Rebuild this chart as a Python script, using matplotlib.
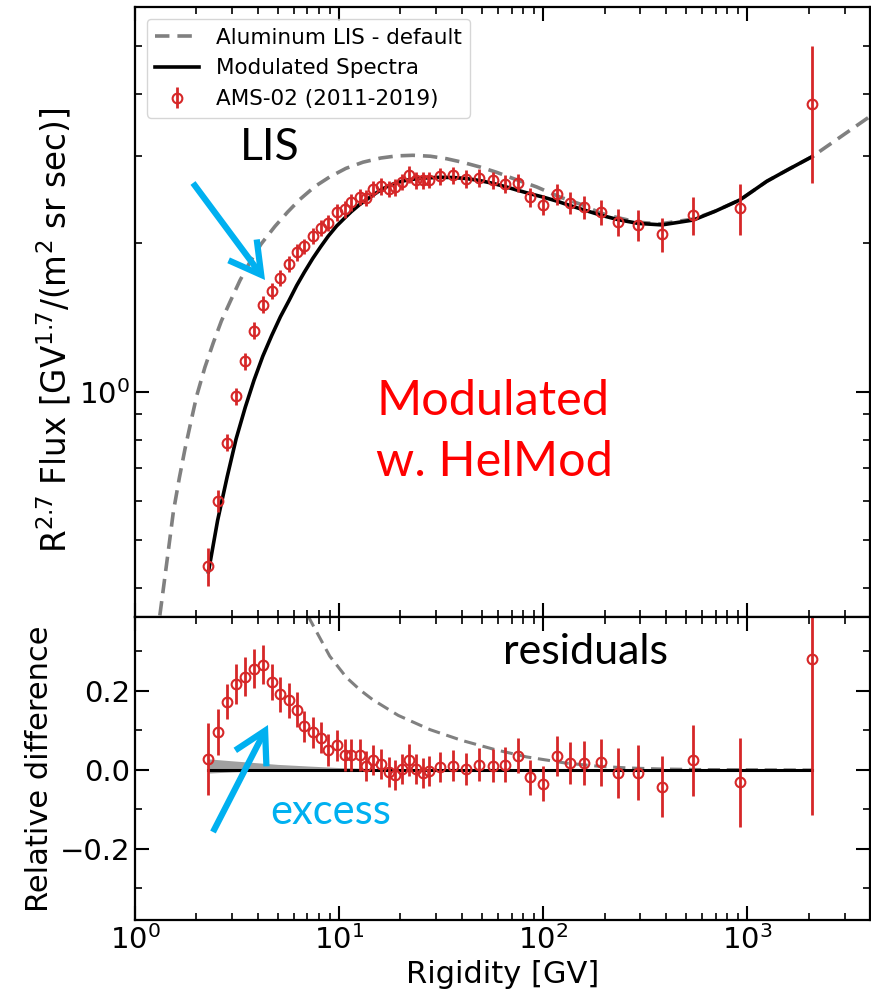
import numpy as np
import matplotlib
matplotlib.use("Agg")
import matplotlib.pyplot as plt
from matplotlib.patches import FancyArrowPatch
from matplotlib.ticker import LogLocator, NullFormatter, MultipleLocator, FixedLocator

# ---------------- data ----------------
rigidity = [2.29, 2.54, 2.83, 3.13, 3.47, 3.83, 4.23, 4.68, 5.16, 5.69, 6.20, 6.76,
            7.43, 8.13, 8.86, 9.74, 10.7, 11.5, 12.6, 13.6, 14.7, 16.0, 17.5, 18.8,
            20.3, 22.1, 23.9, 25.7, 27.7, 31.3, 36.1, 41.9, 48.7, 56.6, 65.1, 75.2,
            86.3, 100.3, 116.7, 135.6, 159.4, 192.4, 233.8, 293.0, 381.7, 545.0, 924.0, 2083.0]
flux = [0.444, 0.602, 0.789, 0.978, 1.153, 1.329, 1.501, 1.598, 1.700, 1.812, 1.913, 1.968,
        2.065, 2.145, 2.196, 2.306, 2.338, 2.417, 2.477, 2.469, 2.570, 2.603, 2.575, 2.594,
        2.655, 2.748, 2.677, 2.677, 2.685, 2.727, 2.740, 2.696, 2.708, 2.677, 2.636, 2.646,
        2.477, 2.391, 2.508, 2.414, 2.365, 2.311, 2.206, 2.173, 2.081, 2.276, 2.354, 3.818]
resid = [0.027, 0.096, 0.173, 0.218, 0.236, 0.256, 0.266, 0.223, 0.191, 0.176, 0.152, 0.110,
         0.095, 0.082, 0.051, 0.062, 0.038, 0.038, 0.038, 0.011, 0.025, 0.014, -0.006, -0.013,
         0.002, 0.025, 0.002, -0.008, -0.003, 0.008, 0.011, 0.003, 0.013, 0.011, 0.013, 0.036,
         -0.019, -0.035, 0.035, 0.017, 0.017, 0.019, -0.008, -0.007, -0.042, 0.024, -0.031, 0.281]
resid_err = [0.091, 0.058, 0.045, 0.050, 0.050, 0.049, 0.049, 0.046, 0.044, 0.044, 0.044, 0.040,
             0.040, 0.040, 0.040, 0.040, 0.040, 0.040, 0.040, 0.038, 0.038, 0.038, 0.038, 0.038,
             0.038, 0.040, 0.038, 0.038, 0.038, 0.038, 0.040, 0.040, 0.042, 0.042, 0.044, 0.044,
             0.044, 0.044, 0.050, 0.053, 0.055, 0.059, 0.063, 0.070, 0.076, 0.090, 0.113, 0.395]

model_R = [2.29, 2.54, 2.83, 3.13, 3.47, 3.83, 4.23, 4.68, 5.16, 5.69, 6.20, 6.76, 7.43,
           8.13, 8.86, 9.74, 10.7, 11.5, 12.6, 13.6, 14.7, 16.0, 17.5, 18.8, 20.3, 22.1,
           25.7, 31.3, 36.1, 41.9, 48.7, 56.6, 65.1, 75.2, 86.3, 100.3, 116.7, 135.6,
           159.4, 192.4, 233.8, 293.0, 381.7, 545.0, 700.0, 924.0, 1248.0, 1600.0, 2083.0]
model_flux = [0.432, 0.549, 0.673, 0.803, 0.930, 1.055, 1.180, 1.300, 1.418, 1.530, 1.640,
              1.745, 1.860, 1.965, 2.065, 2.165, 2.250, 2.315, 2.390, 2.445, 2.500, 2.560,
              2.610, 2.640, 2.665, 2.685, 2.705, 2.715, 2.712, 2.700, 2.675, 2.640, 2.600,
              2.555, 2.515, 2.475, 2.430, 2.380, 2.330, 2.275, 2.228, 2.190, 2.175, 2.225,
              2.320, 2.445, 2.665, 2.820, 2.990]

lis_R = [1.28, 1.352, 1.45, 1.541, 1.65, 1.758, 1.88, 2.006, 2.2, 2.419, 2.65, 2.923, 3.27,
         3.66, 4.15, 4.85, 5.6, 6.43, 7.6, 9.0, 10.8, 13.1, 16.0, 19.2, 23.0, 28.0, 33.7,
         40.5, 49.1, 59.0, 71.6, 92.9, 120.6, 157.9, 190.0, 229.6, 290.0, 373.0, 545.0,
         700.0, 924.0, 1248.0, 1600.0, 2083.0, 4042.0]
lis_flux = [0.318, 0.377, 0.470, 0.571, 0.670, 0.766, 0.870, 0.981, 1.120, 1.256, 1.390,
            1.520, 1.680, 1.830, 1.990, 2.160, 2.310, 2.450, 2.600, 2.720, 2.830, 2.913,
            2.970, 3.000, 3.008, 2.995, 2.960, 2.910, 2.848, 2.780, 2.698, 2.596, 2.477,
            2.383, 2.300, 2.252, 2.203, 2.185, 2.235, 2.320, 2.445, 2.665, 2.820, 2.990, 3.617]

lis_res_R = [6.5, 7.21, 9.0, 10.87, 12.7, 14.6, 19.5, 27.9, 39.9, 58.0, 83.0, 130.0,
             190.0, 260.0, 374.0, 600.0, 2083.0]
lis_res = [0.435, 0.380, 0.288, 0.234, 0.202, 0.178, 0.138, 0.102, 0.0748, 0.0515, 0.0329,
           0.0171, 0.0090, 0.0050, 0.0025, 0.0010, 0.0]

band_R = [2.29, 3.0, 4.0, 5.0, 7.0, 10.0, 15.0, 20.0, 30.0, 2083.0]
band_hi = [0.028, 0.023, 0.018, 0.014, 0.010, 0.006, 0.003, 0.001, 0.0, 0.0]
band_lo = [-0.008, -0.005, -0.003, -0.001, 0.0, 0.0, 0.0, 0.0, 0.0, 0.0]

# ---------------- figure ----------------
RED = "#d62728"
GRAY = "#808080"
CYAN = "#00b0f0"
FS = 22

fig = plt.figure(figsize=(8.71, 9.97), dpi=100)
ax1 = fig.add_axes([0.1550, 0.3811, 0.8439, 0.6118])
ax2 = fig.add_axes([0.1550, 0.0772, 0.8439, 0.3039], sharex=ax1)

r = np.array(rigidity)
f = np.array(flux)
res = np.array(resid)
rerr = np.array(resid_err)
ferr = rerr * f / (1.0 + res)

ax1.plot(lis_R, lis_flux, ls=(0, (4, 2.2)), color=GRAY, lw=2.6, label="Aluminum LIS - default")
ax1.plot(model_R, model_flux, ls="-", color="black", lw=2.6, label="Modulated Spectra")
ax1.errorbar(r, f, yerr=ferr, fmt="o", color=RED, mfc="none", mec=RED, ms=7, mew=1.5,
             elinewidth=2.0, capsize=0, label="AMS-02 (2011-2019)")

ax1.set_xscale("log")
ax1.set_yscale("log")
ax1.set_xlim(1.0, 4000.0)
ax1.set_ylim(0.35, 6.0)
ax1.set_ylabel(r"R$^{2.7}$ Flux [GV$^{1.7}$/(m$^2$ sr sec)]", fontsize=23.5)
ax1.yaxis.set_minor_formatter(NullFormatter())
ax1.yaxis.set_major_locator(FixedLocator([1.0]))
ax1.yaxis.set_minor_locator(FixedLocator([0.4, 0.5, 0.6, 0.7, 0.8, 0.9, 2, 3, 4, 5]))
ax1.tick_params(labelbottom=False)

leg = ax1.legend(loc="upper left", fontsize=15.5, handlelength=2.0, borderaxespad=0.55)

# bottom panel
ax2.fill_between(band_R, band_lo, band_hi, color="#a0a0a0", lw=0)
ax2.plot(lis_res_R, lis_res, ls=(0, (4, 2.2)), color=GRAY, lw=2.2)
ax2.plot([rigidity[0], rigidity[-1]], [0, 0], color="black", lw=2.2)
ax2.errorbar(r, res, yerr=rerr, fmt="o", color=RED, mfc="none", mec=RED, ms=7, mew=1.5,
             elinewidth=2.0, capsize=0)
ax2.set_ylim(-0.38, 0.387)
ax2.yaxis.set_major_locator(MultipleLocator(0.2))
ax2.yaxis.set_minor_locator(MultipleLocator(0.1))
ax2.set_ylabel("Relative difference", fontsize=FS)
ax2.set_xlabel("Rigidity [GV]", fontsize=FS)
ax2.xaxis.set_major_locator(LogLocator(base=10, numticks=10))
ax2.xaxis.set_minor_locator(LogLocator(base=10, subs=np.arange(2, 10), numticks=20))
ax2.xaxis.set_minor_formatter(NullFormatter())

for ax in (ax1, ax2):
    for s in ax.spines.values():
        s.set_linewidth(1.6)
    ax.tick_params(which="both", direction="in", top=True, right=True, labelsize=21)
    ax.tick_params(which="major", length=10, width=1.5)
    ax.tick_params(which="minor", length=5, width=1.2)

fig.align_ylabels([ax1, ax2])
ax1.yaxis.label.set_y(0.47)

# ---------------- annotations ----------------
H = 997.0
def fp(x, y):
    return (x / 871.0, 1.0 - y / H)

fig.text(*fp(240, 148), "LIS", fontsize=32, family="Lato", color="black", va="center", ha="left")
fig.text(*fp(376, 401), "Modulated", fontsize=35, family="Lato", color="#ff0000",
         va="center", ha="left")
fig.text(*fp(376, 462), "w. HelMod", fontsize=35, family="Lato", color="#ff0000",
         va="center", ha="left")
fig.text(*fp(503, 652), "residuals", fontsize=31, family="Lato", color="black", va="center", ha="left")
fig.text(*fp(270, 812), "excess", fontsize=30, family="Lato", color=CYAN, va="center", ha="left")

arrow_kw = dict(arrowstyle="->,head_length=0.8,head_width=0.45", color=CYAN, lw=4.5,
                shrinkA=0, shrinkB=0, mutation_scale=28, joinstyle="miter", capstyle="butt")
fig.add_artist(FancyArrowPatch(fp(193, 183), fp(265, 280), transform=fig.transFigure, **arrow_kw))
fig.add_artist(FancyArrowPatch(fp(213, 832), fp(268, 725), transform=fig.transFigure, **arrow_kw))

fig.savefig("out.png", dpi=100)
